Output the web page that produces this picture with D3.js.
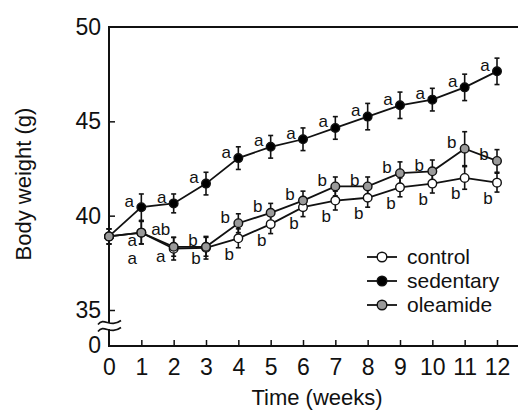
<!DOCTYPE html>
<html>
<head>
<meta charset="utf-8">
<script src="https://cdn.jsdelivr.net/npm/d3@7"></script>
<style>
  body { margin: 0; background: #fff; }
  text { font-family: Arial, "Liberation Sans", sans-serif; fill: #111; }
</style>
</head>
<body>
<div class="canvas"></div>
<script>
// weeks and body weight (g)
const weeks = [0, 1, 2, 3, 4, 5, 6, 7, 8, 9, 10, 11, 12];
const control   = [38.9, 39.1, 38.25, 38.3, 38.8, 39.55, 40.45, 40.8, 40.95, 41.5, 41.7, 42.0, 41.75];
const sedentary = [38.9, 40.45, 40.65, 41.7, 43.05, 43.65, 44.05, 44.65, 45.25, 45.85, 46.15, 46.8, 47.65];
const oleamide  = [38.9, 39.1, 38.35, 38.35, 39.6, 40.15, 40.8, 41.55, 41.55, 42.25, 42.35, 43.55, 42.9];
const controlErr   = [0.4, 0.6, 0.6, 0.6, 0.5, 0.5, 0.5, 0.5, 0.5, 0.5, 0.5, 0.6, 0.5];
const sedentaryErr = [0.4, 0.7, 0.5, 0.6, 0.6, 0.6, 0.6, 0.6, 0.7, 0.7, 0.6, 0.7, 0.7];
const oleamideErr  = [0.4, 0.6, 0.5, 0.5, 0.5, 0.5, 0.5, 0.5, 0.5, 0.6, 0.6, 0.9, 0.6];
const controlLetters   = ['', 'a', 'a', 'b', 'b', 'b', 'b', 'b', 'b', 'b', 'b', 'b', 'b'];
const sedentaryLetters = ['', 'a', 'a', 'a', 'a', 'a', 'a', 'a', 'a', 'a', 'a', 'a', 'a'];
const oleamideLetters  = ['', 'a', 'ab', 'b', 'b', 'b', 'b', 'b', 'b', 'b', 'b', 'b', 'b'];
const yTicks = [35, 40, 45, 50];
const seriesNames = ['control', 'sedentary', 'oleamide'];

const series = [
  { name: 'control', values: control, err: controlErr, letters: controlLetters, fill: '#fff', dx: -9, dy: 16 },
  { name: 'sedentary', values: sedentary, err: sedentaryErr, letters: sedentaryLetters, fill: '#000', dx: -12, dy: -6 },
  { name: 'oleamide', values: oleamide, err: oleamideErr, letters: oleamideLetters, fill: '#9a9a9a', dx: -13, dy: -6 }
];
// small hand nudges where letters crowd together
const nudge = {
  'oleamide-1': [4, 14], 'oleamide-2': [0, -11],
  'control-1': [0, 10], 'control-2': [-4, -8], 'control-3': [-1, -5]
};

const W = 518, H = 410;
const svg = d3.select('.canvas').append('svg')
    .attr('width', W)
    .attr('height', H);

const x = d3.scaleLinear().domain([0, 12]).range([109, 497]);
const y = d3.scaleLinear().domain([35, 50]).range([310, 27]);
const yZero = 346;

// axes
const xAxis = d3.axisBottom(x).tickValues(weeks).tickSize(-6).tickFormat(d3.format('d'));
const gx = svg.append('g').attr('transform', `translate(0,${yZero})`).call(xAxis);
gx.select('.domain').remove();
gx.selectAll('.tick line').attr('stroke', '#111').attr('stroke-width', 1.5)
    .filter(d => d === 0).remove();
gx.selectAll('.tick text').attr('y', 13).attr('dy', '0.71em')
    .style('font-size', '23px').attr('fill', '#111');

const yAxis = d3.axisLeft(y).tickValues(yTicks).tickSize(-6).tickFormat(d3.format('d'));
const gy = svg.append('g').attr('transform', `translate(${x(0)},0)`).call(yAxis);
gy.select('.domain').remove();
gy.selectAll('.tick line').attr('stroke', '#111').attr('stroke-width', 1.5)
    .filter(d => d === 50).remove();
gy.selectAll('.tick text').attr('x', -8).style('font-size', '23px').attr('fill', '#111');

svg.append('text')
    .attr('x', x(0) - 8).attr('y', yZero)
    .attr('text-anchor', 'end').attr('dy', '0.32em')
    .style('font-size', '23px')
    .text('0');

// frame lines
svg.append('line').attr('x1', x(0)).attr('x2', W).attr('y1', yZero).attr('y2', yZero)
    .attr('stroke', '#111').attr('stroke-width', 2);
svg.append('line').attr('x1', x(0)).attr('x2', W).attr('y1', y(50)).attr('y2', y(50))
    .attr('stroke', '#111').attr('stroke-width', 2);
svg.append('line').attr('x1', x(0)).attr('x2', x(0)).attr('y1', y(50) - 1).attr('y2', yZero + 1)
    .attr('stroke', '#111').attr('stroke-width', 2);

// axis break
const bx = x(0), by = 326;
svg.append('rect').attr('x', bx - 4).attr('y', by - 3).attr('width', 8).attr('height', 6).attr('fill', '#fff');
[-3.5, 3.5].forEach(o => {
  svg.append('path')
      .attr('d', `M${bx - 11},${by + o + 2} C${bx - 5},${by + o - 6} ${bx + 1},${by + o + 6} ${bx + 12},${by + o - 2}`)
      .attr('fill', 'none').attr('stroke', '#111').attr('stroke-width', 1.6);
});

// axis titles
svg.append('text')
    .attr('x', 317).attr('y', 405)
    .attr('text-anchor', 'middle')
    .style('font-size', '22px')
    .text('Time (weeks)');
svg.append('text')
    .attr('transform', 'translate(31,184) rotate(-90)')
    .attr('text-anchor', 'middle')
    .style('font-size', '22px')
    .text('Body weight (g)');

// data
const line = d3.line().x((d, i) => x(weeks[i])).y(d => y(d));
const drawOrder = [series[0], series[1], series[2]];

drawOrder.forEach(s => {
  svg.append('path')
      .datum(s.values)
      .attr('d', line)
      .attr('fill', 'none')
      .attr('stroke', '#111')
      .attr('stroke-width', 1.8);
});

drawOrder.forEach(s => {
  const g = svg.append('g');
  s.values.forEach((v, i) => {
    const cx = x(weeks[i]);
    const top = y(v + s.err[i]), bot = y(v - s.err[i]);
    g.append('line').attr('x1', cx).attr('x2', cx).attr('y1', top).attr('y2', bot)
        .attr('stroke', '#111').attr('stroke-width', 1.6);
    [top, bot].forEach(t => g.append('line')
        .attr('x1', cx - 2.5).attr('x2', cx + 2.5).attr('y1', t).attr('y2', t)
        .attr('stroke', '#111').attr('stroke-width', 1.6));
  });
});

drawOrder.forEach(s => {
  svg.append('g').selectAll('circle')
      .data(s.values)
      .join('circle')
      .attr('cx', (d, i) => x(weeks[i]))
      .attr('cy', d => y(d))
      .attr('r', 4.3)
      .attr('fill', s.fill)
      .attr('stroke', '#111')
      .attr('stroke-width', 1.4);
});

// significance letters
series.forEach(s => {
  s.values.forEach((v, i) => {
    if (!s.letters[i]) return;
    const n = nudge[`${s.name}-${i}`] || [0, 0];
    svg.append('text')
        .attr('x', x(weeks[i]) + s.dx + n[0])
        .attr('y', y(v) + s.dy + n[1])
        .attr('text-anchor', 'middle')
        .attr('dominant-baseline', 'central')
        .style('font-size', '17px')
        .text(s.letters[i]);
  });
});

// legend
const legend = svg.append('g').attr('transform', 'translate(367,257)');
seriesNames.forEach((name, i) => {
  const s = series.find(d => d.name === name);
  const row = legend.append('g').attr('transform', `translate(0,${i * 24})`);
  row.append('line').attr('x1', 0).attr('x2', 30).attr('y1', 0).attr('y2', 0)
      .attr('stroke', '#111').attr('stroke-width', 1.8);
  row.append('circle').attr('cx', 15).attr('cy', 0).attr('r', 4.8)
      .attr('fill', s.fill).attr('stroke', '#111').attr('stroke-width', 1.4);
  row.append('text').attr('x', 40).attr('y', 0).attr('dy', '0.35em')
      .style('font-size', '21px')
      .text(name);
});
</script>
</body>
</html>
